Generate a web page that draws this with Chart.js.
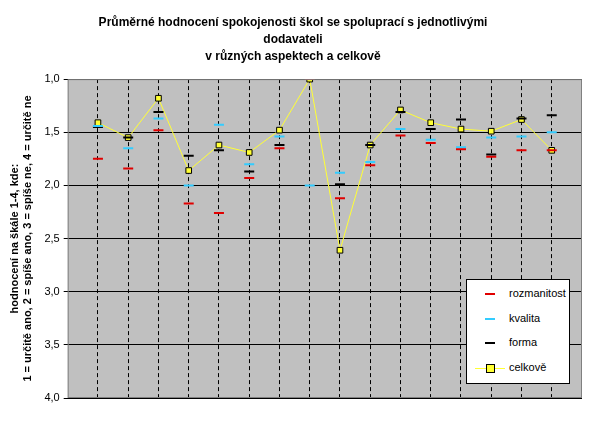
<!DOCTYPE html>
<html><head><meta charset="utf-8">
<script src="https://cdn.jsdelivr.net/npm/chart.js@4"></script>
<style>
body{margin:0;background:#fff;font-family:"Liberation Sans",Arial,sans-serif}
#wrap{position:relative;width:601px;height:426px}
#legend{position:absolute;left:466px;top:279px;width:104px;height:105px;background:#fff;border:1px solid #000;box-sizing:border-box;font-size:11px}
.it{position:absolute;left:8px;height:14px;line-height:14px}
.it span{display:inline-block;vertical-align:middle}
</style></head><body>
<div id="wrap"><canvas id="c" width="601" height="426"></canvas>
<div id="legend">
<div class="it" style="top:6px"><span style="width:10px;height:2px;background:#e00000;margin:0 14px 0 10px"></span>rozmanitost</div>
<div class="it" style="top:31px"><span style="width:10px;height:2px;background:#33ccff;margin:0 14px 0 10px"></span>kvalita</div>
<div class="it" style="top:55px"><span style="width:10px;height:2px;background:#000;margin:0 14px 0 10px"></span>forma</div>
<div class="it" style="top:80px"><span style="position:relative;width:30px;height:1px;background:#ffff33;margin-right:4px"><span style="position:absolute;left:11px;top:-4px;width:7px;height:7px;background:#ffff33;border:1px solid #000"></span></span>celkově</div>
</div></div>
<script>
const categories=[1,2,3,4,5,6,7,8,9,10,11,12,13,14,15,16];
const rozmanitost=[1.75,1.84,1.48,2.17,2.26,1.93,1.65,1.0,2.12,1.81,1.53,1.60,1.66,1.73,1.67,1.67];
const kvalita=[1.44,1.65,1.37,2.0,1.43,1.80,1.54,2.0,1.88,1.78,1.47,1.57,1.64,1.55,1.54,1.50];
const forma=[1.45,1.55,1.31,1.72,1.67,1.87,1.62,1.0,1.99,1.62,1.31,1.47,1.38,1.71,1.37,1.34];
const celkove=[1.41,1.55,1.18,1.86,1.62,1.69,1.48,1.0,2.61,1.62,1.29,1.41,1.47,1.49,1.38,1.67];
const yTicks=[1,1.5,2,2.5,3,3.5,4];
const pts=a=>a.map((v,i)=>({x:categories[i],y:v}));
const dash=(c,d)=>({data:pts(d),borderColor:c,backgroundColor:c,showLine:false,pointStyle:'line',pointRadius:5,pointBorderWidth:2,pointHoverRadius:5});
const bg={id:'bg',beforeDraw(ch){const a=ch.chartArea,x=ch.ctx;x.save();x.fillStyle='#c0c0c0';x.fillRect(a.left,a.top,a.width,a.height);x.restore();},
afterDraw(ch){const a=ch.chartArea,x=ch.ctx;x.save();x.strokeStyle='#808080';x.lineWidth=1;x.strokeRect(a.left+.5,a.top+.5,a.width-1,a.height-1);x.restore();}};
new Chart(document.getElementById('c'),{type:'scatter',plugins:[bg],
data:{datasets:[dash('#e00000',rozmanitost),dash('#33ccff',kvalita),dash('#000000',forma),
{data:pts(celkove),showLine:true,borderColor:'#ffff33',borderWidth:1,pointStyle:'rect',pointRadius:4,pointBackgroundColor:'#ffff33',pointBorderColor:'#000',pointBorderWidth:1}]},
options:{responsive:false,animation:false,events:[],
layout:{padding:{left:4,right:19,top:6,bottom:28}},
plugins:{legend:{display:false},tooltip:{enabled:false},
title:{display:true,text:['Průměrné hodnocení spokojenosti škol se spoluprací s jednotlivými','dodavateli','v různých aspektech a celkově'],font:{family:'Liberation Sans',size:12,weight:'bold',lineHeight:1.42},color:'#000',padding:{top:8,bottom:14}}},
scales:{x:{type:'linear',min:0,max:17,afterBuildTicks:s=>{s.ticks=categories.map(v=>({value:v}));},ticks:{display:false},
grid:{color:'#000',lineWidth:1,tickLength:0,drawTicks:false},border:{display:false,dash:[4,3]}},
y:{reverse:true,min:1,max:4,afterBuildTicks:s=>{s.ticks=yTicks.map(v=>({value:v}));},
ticks:{callback:v=>v.toFixed(1).replace('.',','),font:{family:'Liberation Sans',size:11},color:'#000',padding:4},
grid:{color:'#000',drawTicks:true,tickLength:4},border:{display:false},
title:{display:true,text:['hodnocení na škále 1-4, kde:','1 = určitě ano, 2 = spíše ano, 3 = spíše ne, 4 = určitě ne'],font:{family:'Liberation Sans',size:11,weight:'bold'},color:'#000',padding:{bottom:6}}}}}});
</script>
</body></html>
